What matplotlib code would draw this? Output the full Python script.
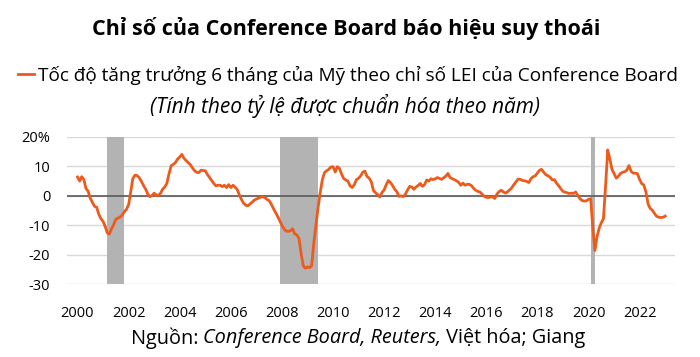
import matplotlib
matplotlib.use("Agg")
import matplotlib.pyplot as plt
import matplotlib.dates as mdates
import pandas as pd
from matplotlib.lines import Line2D

plt.rcParams["font.family"] = ["Open Sans", "DejaVu Sans"]

_LINE, _BAND, _GRID, _ZERO, _FG = "#EE5A1B", "#b3b3b3", "#d9d9d9", "#595959", "#000000"

# 6-month annualized growth of the Conference Board LEI (%), monthly from Jan 2000
lei_growth = [
    6.4, 5.0, 6.5, 5.5, 2.5, 1.6, -0.8, -2.2, -3.6, -3.9, -6.3, -7.8,          # 2000
    -8.7, -10.5, -12.6, -13.0, -11.2, -9.8, -8.0, -7.6, -7.2, -6.6, -5.4, -4.6,  # 2001
    -3.0, 1.5, 5.8, 7.0, 6.9, 6.2, 5.0, 3.5, 2.3, 0.6, -0.3, 0.1,              # 2002
    0.9, 0.2, 0.2, 0.8, 2.2, 3.0, 4.2, 7.5, 10.2, 10.7, 11.3, 12.5,            # 2003
    13.2, 14.1, 12.8, 12.0, 11.3, 10.6, 9.5, 8.5, 8.0, 7.9, 8.7, 8.6,          # 2004
    8.5, 7.2, 6.3, 5.2, 4.2, 3.4, 3.6, 3.6, 3.1, 3.6, 2.8, 3.8,                # 2005
    2.8, 3.6, 3.0, 2.2, 0.4, -1.2, -2.5, -3.2, -3.4, -2.8, -2.2, -1.5,         # 2006
    -1.1, -0.8, -0.5, -0.3, -0.6, -1.2, -1.6, -2.8, -4.3, -5.6, -7.0, -8.5,    # 2007
    -10.0, -11.3, -12.0, -12.1, -11.9, -11.2, -12.9, -13.3, -14.5, -19.5, -23.8, -24.6,  # 2008
    -24.2, -24.4, -23.8, -16.0, -10.0, -4.0, 1.0, 5.5, 7.9, 8.5, 9.0, 9.8,     # 2009
    9.9, 8.1, 9.9, 9.4, 7.5, 5.9, 5.4, 5.0, 3.4, 2.8, 3.8, 5.5,                # 2010
    6.0, 6.8, 8.0, 8.4, 6.6, 6.0, 4.8, 1.8, 1.0, 0.4, -0.4, 1.1,               # 2011
    2.0, 3.8, 5.2, 4.5, 3.5, 2.2, 1.4, -0.2, 0.0, -0.3, 0.6, 2.0,              # 2012
    3.2, 3.0, 2.2, 3.0, 3.5, 4.2, 3.2, 3.8, 5.4, 5.0, 5.8, 5.5,                # 2013
    5.8, 6.2, 5.9, 5.6, 6.1, 6.7, 7.6, 6.2, 5.8, 5.5, 5.1, 4.6,                # 2014
    3.6, 4.3, 3.6, 3.9, 3.9, 3.5, 2.6, 1.9, 1.5, 1.3, 0.6, -0.2,               # 2015
    -0.5, -0.6, -0.4, -0.4, -0.9, 0.6, 1.4, 1.9, 1.3, 0.9, 1.4, 2.1,           # 2016
    2.8, 3.9, 4.8, 5.7, 5.6, 5.2, 5.1, 4.9, 4.5, 5.9, 6.5, 6.8,                # 2017
    7.8, 8.7, 9.0, 8.0, 7.2, 6.8, 6.3, 5.4, 5.5, 4.3, 3.4, 2.4,                # 2018
    1.5, 1.2, 1.0, 0.8, 0.9, 0.8, 1.3, 0.1, -1.0, -1.6, -1.8, -1.7,            # 2019
    -1.2, -1.0, -10.5, -18.6, -14.0, -11.0, -9.2, -7.8, 3.5, 15.6, 12.5, 9.0,  # 2020
    7.5, 6.0, 6.6, 7.6, 8.0, 8.2, 8.7, 10.3, 8.3, 7.7, 7.7, 7.5,               # 2021
    5.5, 4.1, 3.7, 1.2, -2.8, -4.3, -4.9, -6.0, -7.0, -7.3, -7.4, -7.3,        # 2022
    -6.9,                                                                      # 2023
]
start_month = "2000-01-01"

# NBER recessions (peak month, trough month)
recessions = [("2001-03-01", "2001-11-01"), ("2007-12-01", "2009-06-01"), ("2020-02-01", "2020-04-01")]

y_ticks = [-30, -20, -10, 0, 10, 20]
y_labels = ["-30", "-20", "-10", "0", "10", "20%"]
x_years = list(range(2000, 2023, 2))

title = "Chỉ số của Conference Board báo hiệu suy thoái"
series_label = "Tốc độ tăng trưởng 6 tháng của Mỹ theo chỉ số LEI của Conference Board"
subtitle = "(Tính theo tỷ lệ được chuẩn hóa theo năm)"
source_runs = [("Nguồn: ", "normal"), ("Conference Board, Reuters,", "italic"), (" Việt hóa; Giang", "normal")]

dates = pd.date_range(start_month, periods=len(lei_growth), freq="MS")

W, H = 700, 357
fig = plt.figure(figsize=(W / 100, H / 100), dpi=100)
fig.patch.set_facecolor("white")
ax = fig.add_axes([67 / W, 1 - 284 / H, 608 / W, 147 / H])

for start, end in recessions:
    ax.axvspan(pd.Timestamp(start), pd.Timestamp(end), color=_BAND, lw=0, zorder=1)
ax.axhline(0, color=_ZERO, lw=1.2, zorder=2)
ax.plot(dates, lei_growth, color=_LINE, lw=2.0, zorder=3, solid_joinstyle="round")

ax.set_ylim(-30, 20)
ax.set_xlim(pd.Timestamp("1999-08-04"), pd.Timestamp("2023-05-21"))
ax.set_yticks(y_ticks)
ax.set_yticklabels(y_labels)
ax.set_xticks([pd.Timestamp(f"{y}-01-01") for y in x_years])
ax.xaxis.set_major_formatter(mdates.DateFormatter("%Y"))
ax.grid(axis="y", color=_GRID, lw=1.0, zorder=0.5)
ax.set_axisbelow(True)
ax.tick_params(axis="both", length=0, labelsize=10.5, colors=_FG)
ax.tick_params(axis="y", pad=12)
ax.tick_params(axis="x", pad=16)
for spine in ax.spines.values():
    spine.set_visible(False)

fig.text(346 / W, 1 - 28 / H, title, ha="center", va="center", fontsize=15.5, fontweight="bold", color=_FG)
fig.legend(handles=[Line2D([], [], color=_LINE, lw=2.0)], labels=[series_label],
           loc="center", bbox_to_anchor=(348 / W, 1 - 75 / H), frameon=False,
           handlelength=0.85, handletextpad=0.2, fontsize=13.7, borderpad=0)
fig.text(345 / W, 1 - 106 / H, subtitle, ha="center", va="center", fontsize=15, style="italic", color=_FG)

# source line with mixed upright / italic runs, centred as a whole
renderer = fig.canvas.get_renderer()
parts = []
for s, st in source_runs:
    t = fig.text(0, 1 - 338 / H, s, ha="left", va="center", fontsize=14.3, style=st, color=_FG)
    parts.append((t, t.get_window_extent(renderer).width))
x = 358 - sum(w for _, w in parts) / 2
for t, w in parts:
    t.set_x(x / W)
    x += w

fig.savefig("out.png", dpi=100, facecolor="white")
